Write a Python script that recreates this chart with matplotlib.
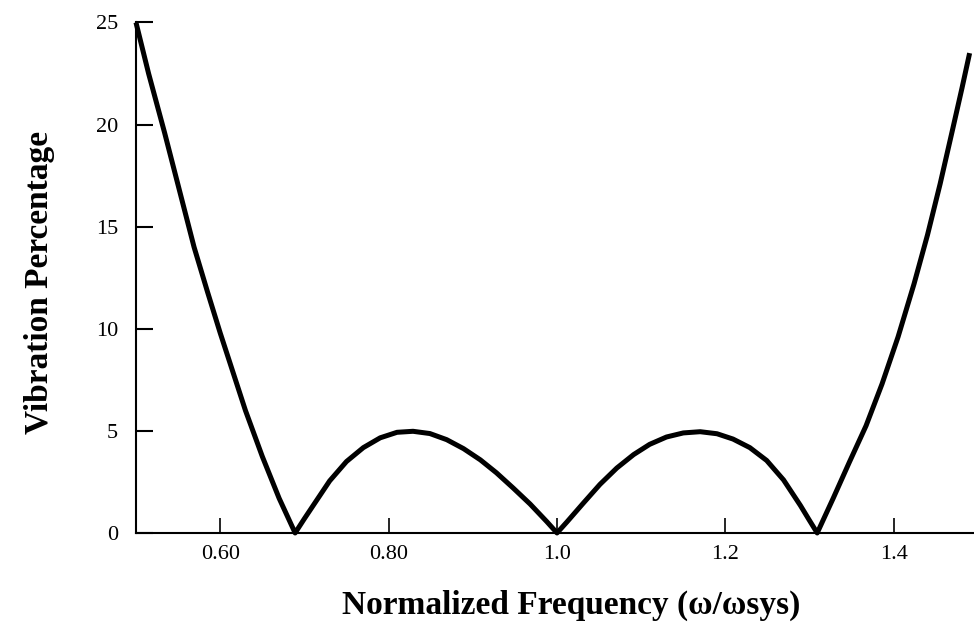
import matplotlib
matplotlib.use("Agg")
import matplotlib.pyplot as plt

# Curve
freq = [0.500, 0.515, 0.534, 0.554, 0.569, 0.585, 0.600, 0.615, 0.630, 0.650, 0.670, 0.689,
        0.700, 0.711, 0.730, 0.750, 0.770, 0.790, 0.810, 0.829, 0.849, 0.869, 0.889, 0.909,
        0.928, 0.948, 0.968, 0.988, 1.000,
        1.012, 1.031, 1.051, 1.071, 1.091, 1.110, 1.130, 1.150, 1.170, 1.190, 1.209, 1.229,
        1.249, 1.269, 1.289, 1.299, 1.309,
        1.328, 1.347, 1.367, 1.386, 1.405, 1.424, 1.440, 1.455, 1.470, 1.481, 1.490]
vib = [25.0, 22.5, 19.6, 16.4, 14.0, 11.8, 9.8, 7.9, 6.0, 3.75, 1.7, 0.0,
       0.7, 1.38, 2.55, 3.5, 4.18, 4.66, 4.93, 4.98, 4.87, 4.57, 4.13, 3.58,
       2.95, 2.2, 1.42, 0.55, 0.0,
       0.55, 1.45, 2.38, 3.18, 3.84, 4.34, 4.70, 4.90, 4.96, 4.86, 4.60, 4.18,
       3.55, 2.6, 1.35, 0.67, 0.0,
       1.7, 3.45, 5.25, 7.3, 9.6, 12.2, 14.6, 17.1, 19.8, 21.8, 23.5]

xticks = [0.6, 0.8, 1.0, 1.2, 1.4]
xtick_labels = ["0.60", "0.80", "1.0", "1.2", "1.4"]
yticks = [0, 5, 10, 15, 20, 25]
ytick_labels = ["0", "5", "10", "15", "20", "25"]

plt.rcParams['font.family'] = ['Liberation Serif', 'DejaVu Serif']

fig = plt.figure(figsize=(9.74, 6.3), dpi=100)
ax = fig.add_axes([0.1396, 0.154, 1.0 - 0.1396, 0.8103])

ax.plot(freq, vib, color='black', lw=3.6, solid_joinstyle='round',
        solid_capstyle='butt', clip_on=False)

ax.set_xlim(0.5, 1.4952)
ax.set_ylim(0, 25)

ax.spines['top'].set_visible(False)
ax.spines['right'].set_visible(False)
for s in ('left', 'bottom'):
    ax.spines[s].set_linewidth(1.5)

ax.set_xticks(xticks, xtick_labels)
ax.set_yticks(yticks, ytick_labels)
ax.tick_params(axis='y', direction='in', length=12, width=1.5, pad=13, labelsize=16)
ax.tick_params(axis='x', direction='in', length=11, width=1.2, pad=9, labelsize=16)

fig.text(0.586, 0.039, "Normalized Frequency (\u03c9/\u03c9sys)", ha='center', va='center',
         fontsize=24, fontweight='bold')
fig.text(0.041, 0.5516, "Vibration Percentage", ha='center', va='center', rotation=90,
         fontsize=24, fontweight='bold')

fig.savefig("out.png", dpi=100)
